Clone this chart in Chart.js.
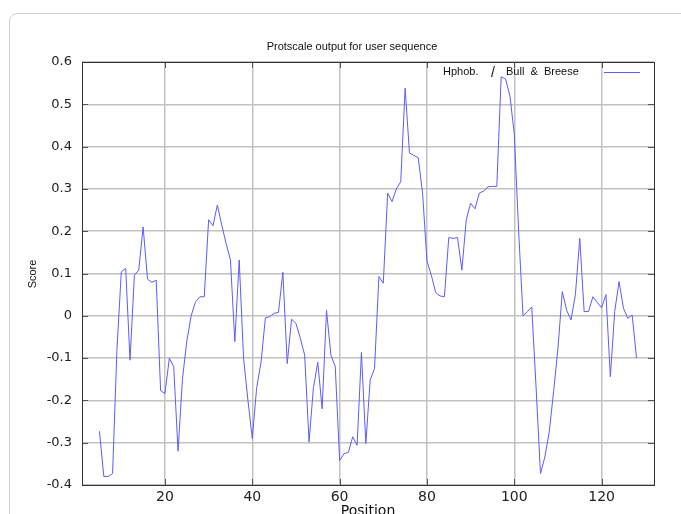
<!DOCTYPE html>
<html>
<head>
<meta charset="utf-8">
<script src="https://cdn.jsdelivr.net/npm/chart.js@4/dist/chart.umd.min.js"></script>
<style>
    html, body { margin:0; padding:0; background:#fff; }
    #wrap { position:relative; width:681px; height:514px; overflow:hidden; }
    #card { position:absolute; left:9px; top:13px; width:740px; height:580px; border:1px solid #cfcfcf; border-radius:8px; }
    #chart { position:absolute; left:0; top:0; }
</style>
</head>
<body>
<div id="wrap">
    <div id="card"></div>
    <canvas id="chart" width="681" height="514"></canvas>
</div>
<script>
// window positions (residue index) and Bull & Breese hydrophobicity score
const positions = [
    5, 6, 7, 8, 9, 10, 11, 12, 13, 14, 15, 16, 17, 18, 19, 20,
    21, 22, 23, 24, 25, 26, 27, 28, 29, 30, 31, 32, 33, 34, 35, 36,
    37, 38, 39, 40, 41, 42, 43, 44, 45, 46, 47, 48, 49, 50, 51, 52,
    53, 54, 55, 56, 57, 58, 59, 60, 61, 62, 63, 64, 65, 66, 67, 68,
    69, 70, 71, 72, 73, 74, 75, 76, 77, 78, 79, 80, 81, 82, 83, 84,
    85, 86, 87, 88, 89, 90, 91, 92, 93, 94, 95, 96, 97, 98, 99, 100,
    101, 102, 103, 104, 105, 106, 107, 108, 109, 110, 111, 112, 113, 114, 115, 116,
    117, 118, 119, 120, 121, 122, 123, 124, 125, 126, 127, 128
];
const scores = [
    -0.273, -0.38, -0.38, -0.373, -0.08, 0.104, 0.112, -0.105, 0.096, 0.108, 0.21, 0.087, 0.079, 0.084, -0.177, -0.184,
    -0.10, -0.12, -0.32, -0.15, -0.06, 0.0, 0.033, 0.045, 0.045, 0.227, 0.213, 0.262, 0.215, 0.171, 0.132, -0.061,
    0.132, -0.10, -0.20, -0.29, -0.17, -0.11, -0.005, -0.002, 0.006, 0.008, 0.103, -0.113, -0.008, -0.018, -0.053, -0.093,
    -0.298, -0.17, -0.11, -0.22, 0.013, -0.093, -0.12, -0.342, -0.326, -0.323, -0.286, -0.306, -0.087, -0.302, -0.152, -0.124,
    0.093, 0.077, 0.29, 0.27, 0.30, 0.317, 0.538, 0.385, 0.379, 0.374, 0.29, 0.13, 0.096, 0.055, 0.047, 0.045,
    0.185, 0.183, 0.185, 0.108, 0.227, 0.266, 0.253, 0.29, 0.295, 0.305, 0.306, 0.306, 0.565, 0.56, 0.52, 0.43,
    0.2, 0.0, 0.01, 0.021, -0.17, -0.373, -0.334, -0.275, -0.18, -0.077, 0.057, 0.013, -0.01, 0.05, 0.183, 0.01,
    0.01, 0.045, 0.032, 0.019, 0.05, -0.144, 0.01, 0.081, 0.018, -0.006, 0.002, -0.1
];
const xTicks = [20, 40, 60, 80, 100, 120];
const yTicks = [-0.4, -0.3, -0.2, -0.1, 0, 0.1, 0.2, 0.3, 0.4, 0.5, 0.6];
const yTickLabels = ['-0.4', '-0.3', '-0.2', '-0.1', '0', '0.1', '0.2', '0.3', '0.4', '0.5', '0.6'];

const lineColor = 'rgb(92, 92, 255)';
const gridColor = '#c2c2c2';
const smallFont = '11px "Liberation Sans", Arial, sans-serif';

// frame, inner ticks, titles, legend
const decorations = {
    id: 'decorations',
    afterDraw(chart) {
        const ctx = chart.ctx;
        const a = chart.chartArea;
        const xs = chart.scales.x;
        const ys = chart.scales.y;
        ctx.save();
        ctx.strokeStyle = '#555';
        ctx.lineWidth = 1;
        ctx.beginPath();
        yTicks.forEach(v => {
            const y = Math.round(ys.getPixelForValue(v)) + 0.5;
            ctx.moveTo(a.left, y); ctx.lineTo(a.left + 6, y);
            ctx.moveTo(a.right, y); ctx.lineTo(a.right - 6, y);
        });
        xTicks.forEach(v => {
            const x = Math.round(xs.getPixelForValue(v)) + 0.5;
            ctx.moveTo(x, a.bottom); ctx.lineTo(x, a.bottom - 6);
            ctx.moveTo(x, a.top); ctx.lineTo(x, a.top + 6);
        });
        ctx.stroke();
        ctx.strokeStyle = '#333';
        ctx.strokeRect(Math.round(a.left) + 0.5, Math.round(a.top) + 0.5,
            Math.round(a.right - a.left), Math.round(a.bottom - a.top));

        ctx.fillStyle = '#111';
        ctx.textBaseline = 'middle';
        ctx.textAlign = 'center';
        ctx.font = smallFont;
        ctx.fillText('Protscale output for user sequence', 352, 47);

        ctx.save();
        ctx.translate(33, 274);
        ctx.rotate(-Math.PI / 2);
        ctx.fillText('Score', 0, 0);
        ctx.restore();

        ctx.font = '14px "DejaVu Sans", sans-serif';
        ctx.textBaseline = 'alphabetic';
        ctx.fillText('Position', 368, 515);

        // legend
        ctx.textAlign = 'left';
        ctx.textBaseline = 'middle';
        ctx.font = smallFont;
        ctx.fillText('Hphob.', 443, 72);
        ctx.fillText('Bull  &  Breese', 506, 72);
        ctx.font = '14px "Liberation Sans", Arial, sans-serif';
        ctx.fillText('/', 491, 73);
        ctx.strokeStyle = lineColor;
        ctx.beginPath();
        ctx.moveTo(604, 72.5); ctx.lineTo(640, 72.5);
        ctx.stroke();
        ctx.restore();
    }
};

new Chart(document.getElementById('chart'), {
    type: 'line',
    data: {
        datasets: [{
            data: positions.map((p, i) => ({ x: p, y: scores[i] })),
            borderColor: lineColor,
            borderWidth: 1,
            pointRadius: 0,
            tension: 0,
            fill: false
        }]
    },
    options: {
        responsive: false,
        animation: false,
        devicePixelRatio: 1,
        layout: { padding: { top: 62, right: 27, left: 0, bottom: 0 } },
        plugins: { legend: { display: false }, tooltip: { enabled: false } },
        scales: {
            x: {
                type: 'linear',
                min: 1,
                max: 132,
                afterFit: s => { s.height = 29; },
                afterBuildTicks: s => { s.ticks = xTicks.map(v => ({ value: v })); },
                grid: { color: gridColor, lineWidth: 1.5, drawTicks: false },
                border: { display: false },
                ticks: {
                    padding: 4,
                    color: '#222',
                    autoSkip: false,
                    maxRotation: 0,
                    font: { family: 'DejaVu Sans', size: 14 }
                }
            },
            y: {
                min: -0.4,
                max: 0.6,
                afterFit: s => { s.width = 82; },
                afterBuildTicks: s => { s.ticks = yTicks.map(v => ({ value: v })); },
                grid: { color: gridColor, lineWidth: 1.5, drawTicks: false },
                border: { display: false },
                ticks: {
                    padding: 10,
                    color: '#222',
                    autoSkip: false,
                    font: { family: 'DejaVu Sans', size: 13 },
                    callback: (v, i) => yTickLabels[i]
                }
            }
        }
    },
    plugins: [decorations]
});
</script>
</body>
</html>
